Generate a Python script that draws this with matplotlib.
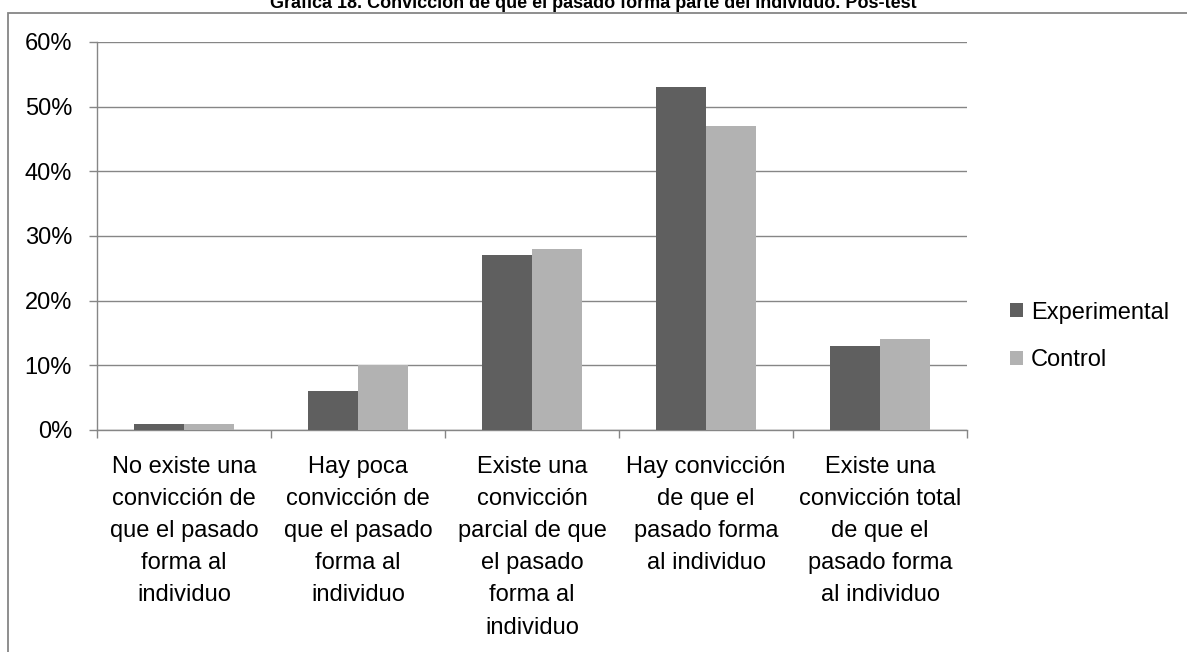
import matplotlib.pyplot as plt
import numpy as np
from matplotlib.patches import Rectangle
from matplotlib.ticker import FuncFormatter, MultipleLocator

# Chart data
categories = [
    "No existe una\nconvicción de\nque el pasado\nforma al\nindividuo",
    "Hay poca\nconvicción de\nque el pasado\nforma al\nindividuo",
    "Existe una\nconvicción\nparcial de que\nel pasado\nforma al\nindividuo",
    "Hay convicción\nde que el\npasado forma\nal individuo",
    "Existe una\nconvicción total\nde que el\npasado forma\nal individuo",
]
experimental = [1, 6, 27, 53, 13]
control = [1, 10, 28, 47, 14]
series_names = ["Experimental", "Control"]
title = "Gráfica 18. Convicción de que el pasado forma parte del individuo. Pos-test"

plt.rcParams['font.family'] = ['Liberation Sans', 'DejaVu Sans']

fig = plt.figure(figsize=(11.87, 6.52), dpi=100)
W, H = 1187, 652

# Outer chart frame (clipped at top/left like the source)
frame = Rectangle((8 / W, -0.1), 1.2, 1 - 12.5 / H + 0.1, transform=fig.transFigure,
                  fill=False, edgecolor='#868686', linewidth=1.3)
fig.patches.append(frame)

# Title, partly cut off at the top edge as in the source
fig.text(0.5, 1 - 8 / H, title, ha='center', va='baseline',
         fontsize=13, fontweight='bold')

ax = fig.add_axes([97 / W, 1 - 430 / H, 870 / W, 388 / H])

x = np.arange(len(categories))
w = 0.285
ax.bar(x - w / 2, experimental, w, color='#5f5f5f', label=series_names[0], zorder=3)
ax.bar(x + w / 2, control, w, color='#b2b2b2', label=series_names[1], zorder=3)

ax.set_xlim(-0.5, len(categories) - 0.5)
ax.set_ylim(0, 60)
ax.yaxis.set_major_locator(MultipleLocator(10))
ax.yaxis.set_major_formatter(FuncFormatter(lambda v, p: f"{int(v)}%"))
ax.grid(axis='y', color='#868686', linewidth=1, zorder=0)

ax.set_xticks(x)
ax.set_xticklabels(categories, fontsize=17, linespacing=1.6)
ax.set_xticks(np.arange(-0.5, len(categories)), minor=True)
ax.tick_params(axis='x', which='major', length=0, pad=18.5)
ax.tick_params(axis='x', which='minor', length=6, color='#868686', width=1)
ax.tick_params(axis='y', length=6, color='#868686', width=1, labelsize=17, pad=12)

for s in ['top', 'right']:
    ax.spines[s].set_visible(False)
for s in ['left', 'bottom']:
    ax.spines[s].set_color('#868686')
    ax.spines[s].set_linewidth(1)

fig.legend(loc='center left', bbox_to_anchor=(1010 / W, 1 - 336.5 / H), frameon=False,
           fontsize=17, handlelength=0.55, handleheight=0.55, handletextpad=0.35,
           labelspacing=1.1, borderpad=0, borderaxespad=0)

fig.savefig('out.png', dpi=100)
